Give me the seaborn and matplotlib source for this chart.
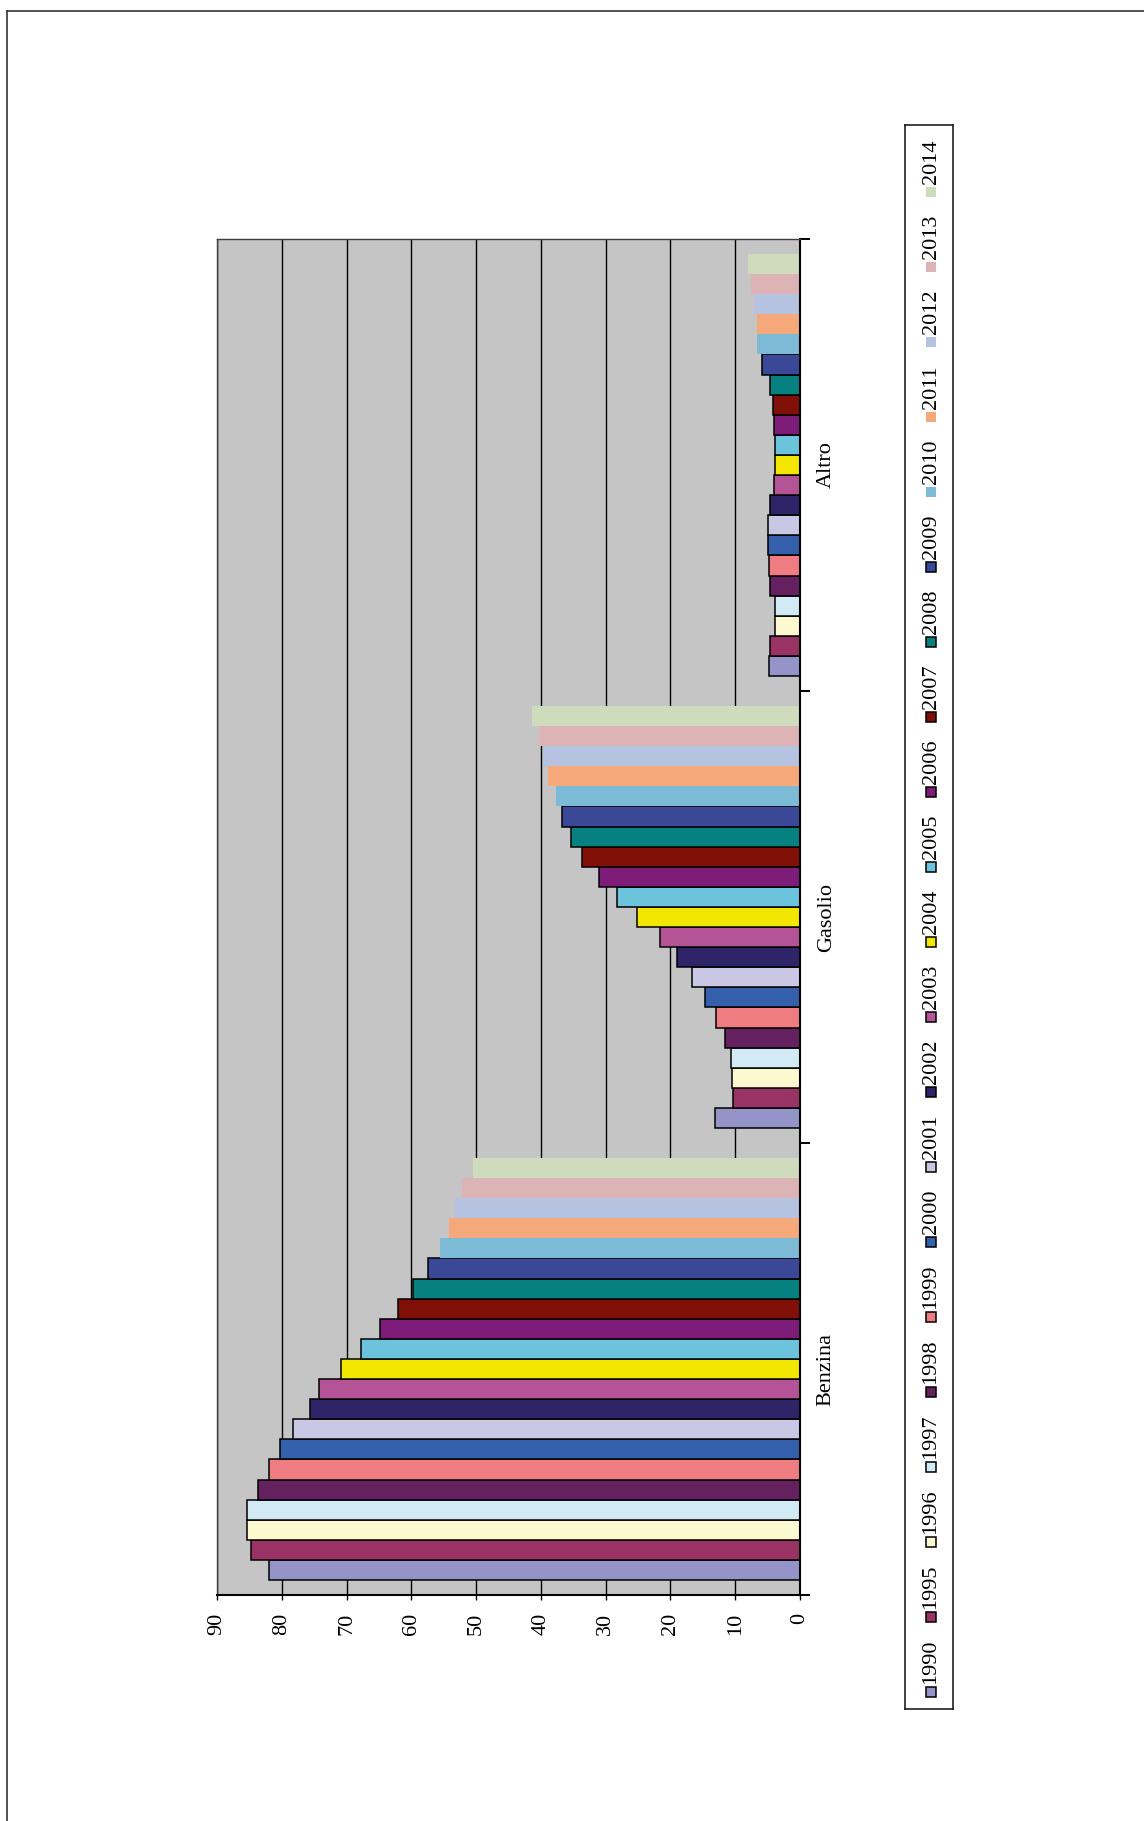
import pandas as pd
import seaborn as sns
import matplotlib.pyplot as plt
from matplotlib.patches import Rectangle
from matplotlib.lines import Line2D

# Data
fuels = ["Benzina", "Gasolio", "Altro"]
years = ["1990", "1995", "1996", "1997", "1998", "1999", "2000", "2001", "2002", "2003", "2004",
         "2005", "2006", "2007", "2008", "2009", "2010", "2011", "2012", "2013", "2014"]
benzina = [81.9, 84.7, 85.4, 85.4, 83.6, 81.9, 80.2, 78.3, 75.7, 74.2, 70.8,
           67.7, 64.8, 62.0, 59.8, 57.4, 55.5, 54.2, 53.2, 52.2, 50.5]
gasolio = [13.1, 10.3, 10.5, 10.7, 11.6, 12.9, 14.7, 16.6, 19.0, 21.6, 25.2,
           28.2, 31.1, 33.7, 35.4, 36.7, 37.7, 38.9, 39.6, 40.3, 41.3]
altro = [4.8, 4.7, 3.9, 3.8, 4.7, 4.8, 5.0, 4.9, 4.7, 4.0, 3.9,
         3.9, 4.0, 4.1, 4.6, 5.9, 6.7, 6.7, 7.1, 7.5, 8.0]
colors = ["#9494C8", "#993366", "#FCF8D0", "#D2EAF4", "#652060", "#EE7C80", "#3561AC",
          "#C9C7E4", "#302468", "#B45496", "#F3E600", "#6BC4DC", "#7E1C7A", "#800F08",
          "#078080", "#3A4897", "#7CBAD6", "#F5A97A", "#B6C3E0", "#DCB4B6", "#CFDBBD"]
no_edge = ["2010", "2011", "2012", "2013", "2014"]

# long table for seaborn
rows = []
for fuel, vals in zip(fuels, [benzina, gasolio, altro]):
    for y, v in zip(years, vals):
        rows.append({"fuel": fuel, "year": y, "value": v})
df = pd.DataFrame(rows)

W, H = 1144, 1821
fig = plt.figure(figsize=(W / 100, H / 100), dpi=100)
plt.rcParams['font.family'] = ['Liberation Serif', 'DejaVu Serif']

ax = fig.add_axes([217 / W, 1 - 1595 / H, (800 - 217) / W, (1595 - 239) / H])
ax.set_facecolor("#C4C5C4")

sns.barplot(data=df, x="value", y="fuel", hue="year", orient="h", order=fuels,
            hue_order=years, palette=colors, width=0.934, saturation=1,
            errorbar=None, edgecolor="black", linewidth=1.1, legend=False, ax=ax)

for cont, y in zip(ax.containers, years):
    if y in no_edge:
        for bar in cont:
            bar.set_edgecolor("none")

ax.set_xlim(90, 0)
ax.set_ylim(-0.5, 2.5)
ax.set_xlabel("")
ax.set_ylabel("")

# value axis (bottom)
ax.set_xticks(range(0, 100, 10))
ax.tick_params(axis="x", length=3.6, width=1, color="black", pad=9,
               labelsize=16, labelrotation=90)
ax.xaxis.grid(True, color="black", linewidth=1)
ax.set_axisbelow(True)

# category axis (right)
ax.yaxis.tick_right()
ax.set_yticks([0, 1, 2])
ax.set_yticklabels(fuels, rotation=90, va="center", ha="left", fontsize=16)
ax.set_yticks([-0.5, 0.5, 1.5, 2.5], minor=True)
ax.tick_params(axis="y", which="major", length=0, pad=12)
ax.tick_params(axis="y", which="minor", length=7.2, width=1.4, color="black", direction="out")

for s in ["right", "bottom"]:
    ax.spines[s].set_color("black")
    ax.spines[s].set_linewidth(1.5)
for s in ["top", "left"]:
    ax.spines[s].set_color("#404040")
    ax.spines[s].set_linewidth(1)

# legend, drawn rotated like the rest of the chart
lax = fig.add_axes([905 / W, 1 - 1709 / H, 48 / W, (1709 - 125) / H])
lax.set_xlim(905, 953)
lax.set_ylim(1709, 125)
lax.set_xticks([])
lax.set_yticks([])
for s in lax.spines.values():
    s.set_color("#202020")
    s.set_linewidth(1.2)
for i, (y, c) in enumerate(zip(years, colors)):
    cy = 1692 - 75 * i
    ec = "none" if y in no_edge else "black"
    lax.add_patch(Rectangle((926, cy - 5), 10, 10, facecolor=c, edgecolor=ec, linewidth=1.1))
    lax.text(931, cy - 8, y, rotation=90, ha="center", va="bottom", fontsize=16)

# page frame
fig.add_artist(Line2D([7 / W, 1], [1 - 11 / H, 1 - 11 / H], color="#333333", linewidth=1.2))
fig.add_artist(Line2D([7 / W, 7 / W], [0, 1 - 11 / H], color="#333333", linewidth=1.2))

fig.savefig("out.png", dpi=100, facecolor="white")
